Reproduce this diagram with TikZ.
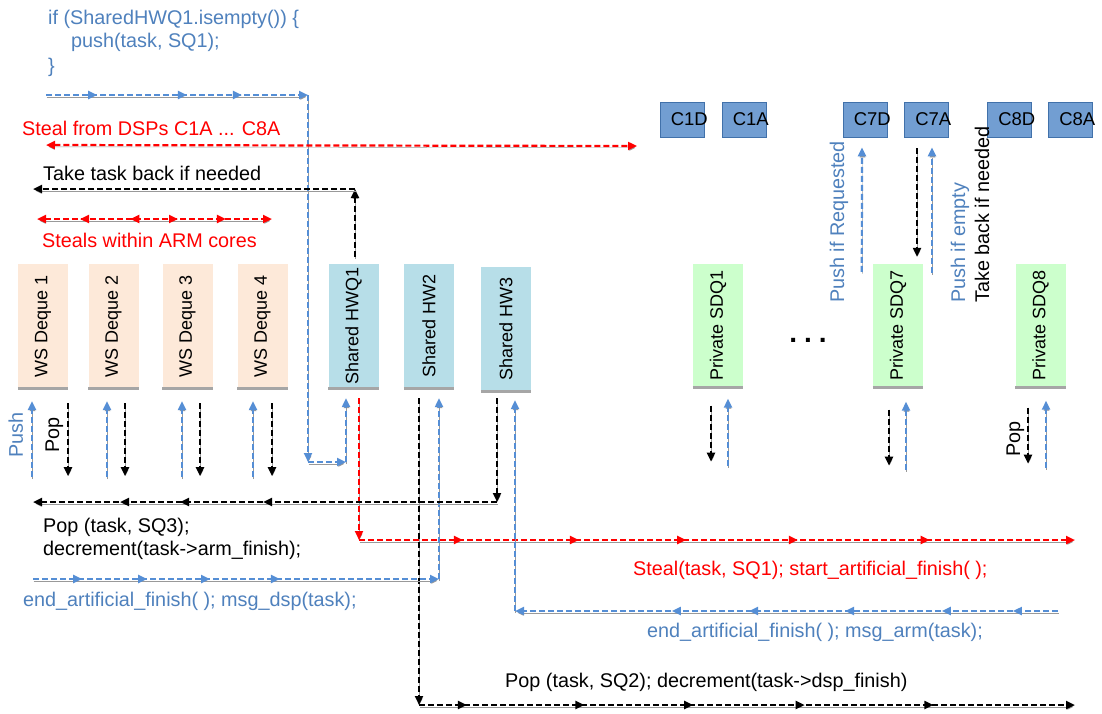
\documentclass[tikz,border=0pt]{standalone}
\usepackage{fontspec}
\setmainfont{Liberation Sans}
\usepackage{graphicx}
\usetikzlibrary{arrows.meta,decorations.markings,calc}
\definecolor{bl}{RGB}{85,142,213}
\definecolor{bltx}{RGB}{79,129,189}
\definecolor{peach}{RGB}{253,233,217}
\definecolor{ltblue}{RGB}{183,222,232}
\definecolor{ltgreen}{RGB}{204,255,204}
\definecolor{cfill}{RGB}{114,158,210}
\definecolor{cborder}{RGB}{65,113,170}
\definecolor{boxline}{RGB}{166,166,166}
\tikzset{
  >={Triangle[length=9pt,width=8pt]},
  lf/.style={font=\fontsize{19.8}{24}\selectfont, inner sep=0pt, anchor=base west},
  cf/.style={font=\fontsize{18.5}{22}\selectfont, inner sep=0pt, anchor=west},
  bf/.style={font=\fontsize{18}{22}\selectfont},
  wsbox/.style={fill=peach, minimum width=50pt, minimum height=124pt, inner sep=0pt, bf},
  shbox/.style={wsbox, fill=ltblue},
  prbox/.style={wsbox, fill=ltgreen},
  cbox/.style={draw=cborder, fill=cfill, line width=0.8pt, minimum width=44pt, minimum height=35pt, inner sep=0pt},
  con/.style={line width=2.2pt, dash pattern=on 6pt off 3pt,
    preaction={draw=black!40, transform canvas={shift={(0.5pt,-1.8pt)}}}},
  bc/.style={con, draw=bl},
  kc/.style={con, draw=black},
  rc/.style={con, draw=red},
  ma/.style={postaction={decorate, decoration={markings, mark=at position #1 with {\arrow{>}}}}},
  mr/.style={postaction={decorate, decoration={markings, mark=at position #1 with {\arrowreversed{>}}}}},
}
\begin{document}
\begin{tikzpicture}[x=1pt,y=-1pt]
\fill[white] (0,0) rectangle (1102,713);
\useasboundingbox (0,0) rectangle (1102,713);

% code text
\node[lf, text=bltx] (code1) at (48,24) {if (SharedHWQ1.isempty()) \{};
\node[lf, text=bltx] (code2) at (71,47) {push(task, SQ1);};
\node[lf, text=bltx] (code3) at (48,72) {\}};

\node[lf, text=red] (t1) at (22,135) {Steal from DSPs C1A ... C8A};
\node[lf] (t2) at (43,180) {Take task back if needed};
\node[lf, text=red] (t3) at (42,247) {Steals within ARM cores};

% queues
\node[wsbox] (d1) at (43,326) {\rotatebox{90}{WS Deque 1}};
\node[wsbox] (d2) at (113.5,326) {\rotatebox{90}{WS Deque 2}};
\node[wsbox] (d3) at (187.5,326) {\rotatebox{90}{WS Deque 3}};
\node[wsbox] (d4) at (262.5,326) {\rotatebox{90}{WS Deque 4}};
\node[shbox] (q1) at (353.5,326) {\rotatebox{90}{Shared HWQ1}};
\node[shbox] (q2) at (429,326) {\rotatebox{90}{Shared HW2}};
\node[shbox] (q3) at (506,329) {\rotatebox{90}{Shared HW3}};
\node[prbox] (p1) at (718,325.5) {\rotatebox{90}{Private SDQ1}};
\node[prbox] (p7) at (898,325.5) {\rotatebox{90}{Private SDQ7}};
\node[prbox] (p8) at (1040.5,325.5) {\rotatebox{90}{Private SDQ8}};
\foreach \nn in {d1,d2,d3,d4,q1,q2,q3,p1,p7,p8}
  \draw[boxline, line width=3pt] (\nn.south west) -- (\nn.south east);

\node[font=\bfseries\fontsize{28}{30}\selectfont, inner sep=0pt] (dots) at (808,340) {.\hspace{7pt}.\hspace{7pt}.};

% DSP cores
\node[cbox] (c1d) at (682,119.5) {};
\node[cbox] (c1a) at (744,119.5) {};
\node[cbox] (c7d) at (865,119.5) {};
\node[cbox] (c7a) at (926.5,119.5) {};
\node[cbox] (c8d) at (1009.5,119.5) {};
\node[cbox] (c8a) at (1070.5,119.5) {};
\node[cf] at ($(c1d.west)+(11,0)$) {C1D};
\node[cf] at ($(c1a.west)+(11,0)$) {C1A};
\node[cf] at ($(c7d.west)+(11,0)$) {C7D};
\node[cf] at ($(c7a.west)+(11,0)$) {C7A};
\node[cf] at ($(c8d.west)+(11,0)$) {C8D};
\node[cf] at ($(c8a.west)+(11,0)$) {C8A};

% top blue push path
\coordinate (b0) at (46,95);
\coordinate (b1) at (308,95);
\coordinate (b2) at (308,462);
\coordinate (b3) at (346,462);
\draw[bc,->,ma=0.195,ma=0.538,ma=0.748] (b0) -- (b1);
\draw[bc,->] (b1) -- (b2);
\draw[bc,->] (b2) -- (b3);
\draw[bc,->] (b3) -- ($(q1.south)+(-7.5,10)$);

% steal from DSPs
\coordinate (r0) at (46,145);
\coordinate (r1) at (637,146);
\draw[rc,<->] (r0) -- (r1);

% take task back
\coordinate (k0) at (355,189);
\coordinate (k1) at (33,189);
\draw[kc,->] ($(q1.north)+(1.5,-7)$) -- (k0);
\draw[kc,->] (k0) -- (k1);

% steals within ARM cores
\coordinate (s0) at (37,219);
\coordinate (s1) at (272,219);
\draw[rc,<->,mr=0.183,mr=0.397,ma=0.6,ma=0.804] (s0) -- (s1);

% push / pop at WS deques
\foreach \nn/\bx/\kx in {d1/-11/25, d2/-6.5/11.5, d3/-5.5/12.5, d4/-9.5/9.5}{
  \draw[bc,->] ($(\nn.south)+(\bx,89)$) -- ($(\nn.south)+(\bx,13)$);
  \draw[kc,->] ($(\nn.south)+(\kx,15)$) -- ($(\nn.south)+(\kx,88)$);
}
\node[lf, text=bltx, rotate=90] (lpush) at (23,458) {Push};
\node[lf, rotate=90] (lpop) at (59,453) {Pop};

% HWQ1 steal
\coordinate (rr0) at (359,540);
\coordinate (rr1) at (1075,540);
\draw[rc,->] ($(q1.south)+(5.5,10)$) -- (rr0);
\draw[rc,->,ma=0.145,ma=0.307,ma=0.457,ma=0.613,ma=0.797] (rr0) -- (rr1);

% HW2
\coordinate (kk0) at (419,705);
\coordinate (kk1) at (1075,705);
\draw[kc,->] ($(q2.south)+(-10,10)$) -- (kk0);
\draw[kc,->,ma=0.073,ma=0.252,ma=0.418,ma=0.588,ma=0.784] (kk0) -- (kk1);
\coordinate (bd0) at (33,579);
\coordinate (bd1) at (439,579);
\draw[bc,->,ma=0.121,ma=0.281,ma=0.436,ma=0.608] (bd0) -- (bd1);
\draw[bc,->] (bd1) -- ($(q2.south)+(10,10)$);

% HW3
\coordinate (kh0) at (497,502);
\coordinate (kh1) at (33,502);
\draw[kc,->] ($(q3.south)+(-9,7)$) -- (kh0);
\draw[kc,->,ma=0.504,ma=0.683,ma=0.8125] (kh0) -- (kh1);
\coordinate (ba0) at (1058,611);
\coordinate (ba1) at (515,611);
\draw[bc,->,ma=0.083,ma=0.214,ma=0.392,ma=0.569,ma=0.711] (ba0) -- (ba1);
\draw[bc,->] (ba1) -- ($(q3.south)+(9,9)$);

% private queues
\foreach \nn/\kx/\ka/\kb/\bx/\ba/\bb in {p1/-7/18/74/10/78/11, p7/-9/22/78/8/82/14, p8/-12.5/20/76/5.5/80/13}{
  \draw[kc,->] ($(\nn.south)+(\kx,\ka)$) -- ($(\nn.south)+(\kx,\kb)$);
  \draw[bc,->] ($(\nn.south)+(\bx,\ba)$) -- ($(\nn.south)+(\bx,\bb)$);
}
\node[lf, rotate=90] (lpop8) at (1020,457) {Pop};

% C7 arrows
\draw[bc,->] ($(p7.north west)+(-11,8.5)$) -- ($(c7d.south)+(-3,10)$);
\draw[kc,->] ($(c7a.south)+(-9.5,11)$) -- ($(p7.north)+(19,-6.5)$);
\draw[bc,->] ($(p7.north)+(34,9.5)$) -- ($(c7a.south)+(5.5,10)$);
\node[lf, text=bltx, rotate=90] (l1) at (844,303) {Push if Requested};
\node[lf, text=bltx, rotate=90] (l2) at (965,303) {Push if empty};
\node[lf, rotate=90] (l3) at (989,303) {Take back if needed};

% bottom texts
\node[lf] (tx1) at (43,532) {Pop (task, SQ3);};
\node[lf] (tx2) at (43,555) {decrement(task->arm\_finish);};
\node[lf, text=bltx] (tx3) at (23,606) {end\_artificial\_finish( ); msg\_dsp(task);};
\node[lf, text=red] (tx4) at (633,575) {Steal(task, SQ1); start\_artificial\_finish( );};
\node[lf, text=bltx] (tx5) at (647,637) {end\_artificial\_finish( ); msg\_arm(task);};
\node[lf] (tx6) at (505,687) {Pop (task, SQ2); decrement(task->dsp\_finish)};
\end{tikzpicture}
\end{document}
